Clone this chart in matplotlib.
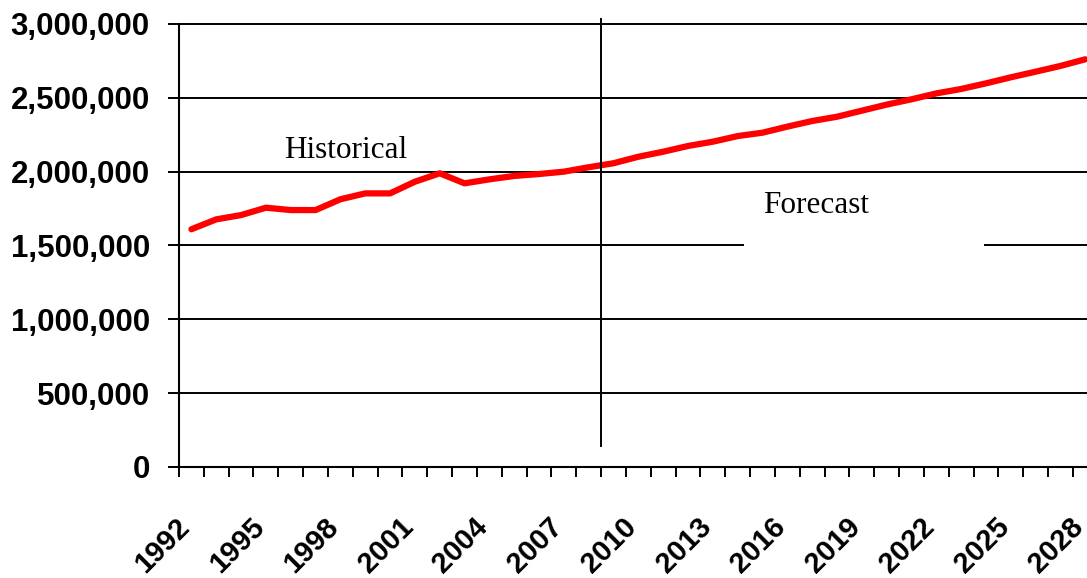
import matplotlib
matplotlib.use("Agg")
import matplotlib.pyplot as plt
import matplotlib.transforms as mtransforms
from matplotlib.patches import Rectangle
from matplotlib.ticker import FuncFormatter

years = list(range(1992, 2029))
population = [
    1610000, 1677000, 1706000, 1756000, 1740000, 1740000, 1813000, 1853000,
    1853000, 1932000, 1989000, 1921000, 1948000, 1971000, 1984000, 2000000,
    2030000, 2057000, 2101000, 2135000, 2174000, 2203000, 2241000, 2264000,
    2305000, 2343000, 2372000, 2413000, 2454000, 2490000, 2530000, 2560000,
    2598000, 2639000, 2677000, 2716000, 2761000,
]
label_years = list(range(1992, 2029, 3))
y_ticks = [0, 500000, 1000000, 1500000, 2000000, 2500000, 3000000]
split_year = 2008.5

W, H = 1087, 578
fig = plt.figure(figsize=(W / 100, H / 100), dpi=100)
# plot area runs a little past the right edge of the figure
left, right, bottom, top = 179, 1097.7, 111, 554
ax = fig.add_axes([left / W, bottom / H, (right - left) / W, (top - bottom) / H])

ax.set_xlim(years[0] - 0.5, years[-1] + 0.5)
ax.set_ylim(0, 3000000)

for v in y_ticks:
    ax.axhline(v, color="black", lw=1.4, zorder=1, clip_on=False)

# white text box behind the forecast label
ax.add_patch(Rectangle((2014.24, 1460000), 9.68, 490000, facecolor="white",
                       edgecolor="none", zorder=2))

ax.plot(years, population, color="#ff0000", lw=4.5, solid_capstyle="round",
        solid_joinstyle="round", zorder=3)

ax.plot([split_year, split_year], [142000, 3037000], color="black", lw=1.4,
        zorder=4, clip_on=False)

ax.text(1998.2, 2093000, "Historical", family="Liberation Serif", fontsize=22.5,
        ha="center", va="baseline", zorder=5)
ax.text(2017.15, 1720000, "Forecast", family="Liberation Serif", fontsize=22.5,
        ha="center", va="baseline", zorder=5)

for side in ("top", "right"):
    ax.spines[side].set_visible(False)
for side in ("left", "bottom"):
    ax.spines[side].set_linewidth(1.5)
    ax.spines[side].set_zorder(4)

ax.set_yticks(y_ticks)
ax.yaxis.set_major_formatter(FuncFormatter(lambda v, p: f"{int(v):,}"))
ax.tick_params(axis="y", direction="out", length=8, width=1.4, pad=13,
               labelsize=22.5)
for lab in ax.get_yticklabels():
    lab.set_family("Liberation Sans")
    lab.set_fontweight("bold")

ax.set_xticks([y - 0.5 for y in years] + [years[-1] + 0.5])
ax.set_xticklabels([])
ax.tick_params(axis="x", direction="out", length=7.2, width=1.4)

offset = mtransforms.ScaledTranslation(-0.16, -0.46, fig.dpi_scale_trans)
for yr in label_years:
    ax.text(yr, 0, str(yr), transform=ax.get_xaxis_transform() + offset,
            rotation=45, rotation_mode="anchor", ha="right", va="top",
            family="Liberation Sans", fontweight="bold", fontsize=21,
            clip_on=False)

fig.savefig("out.png", dpi=100)
